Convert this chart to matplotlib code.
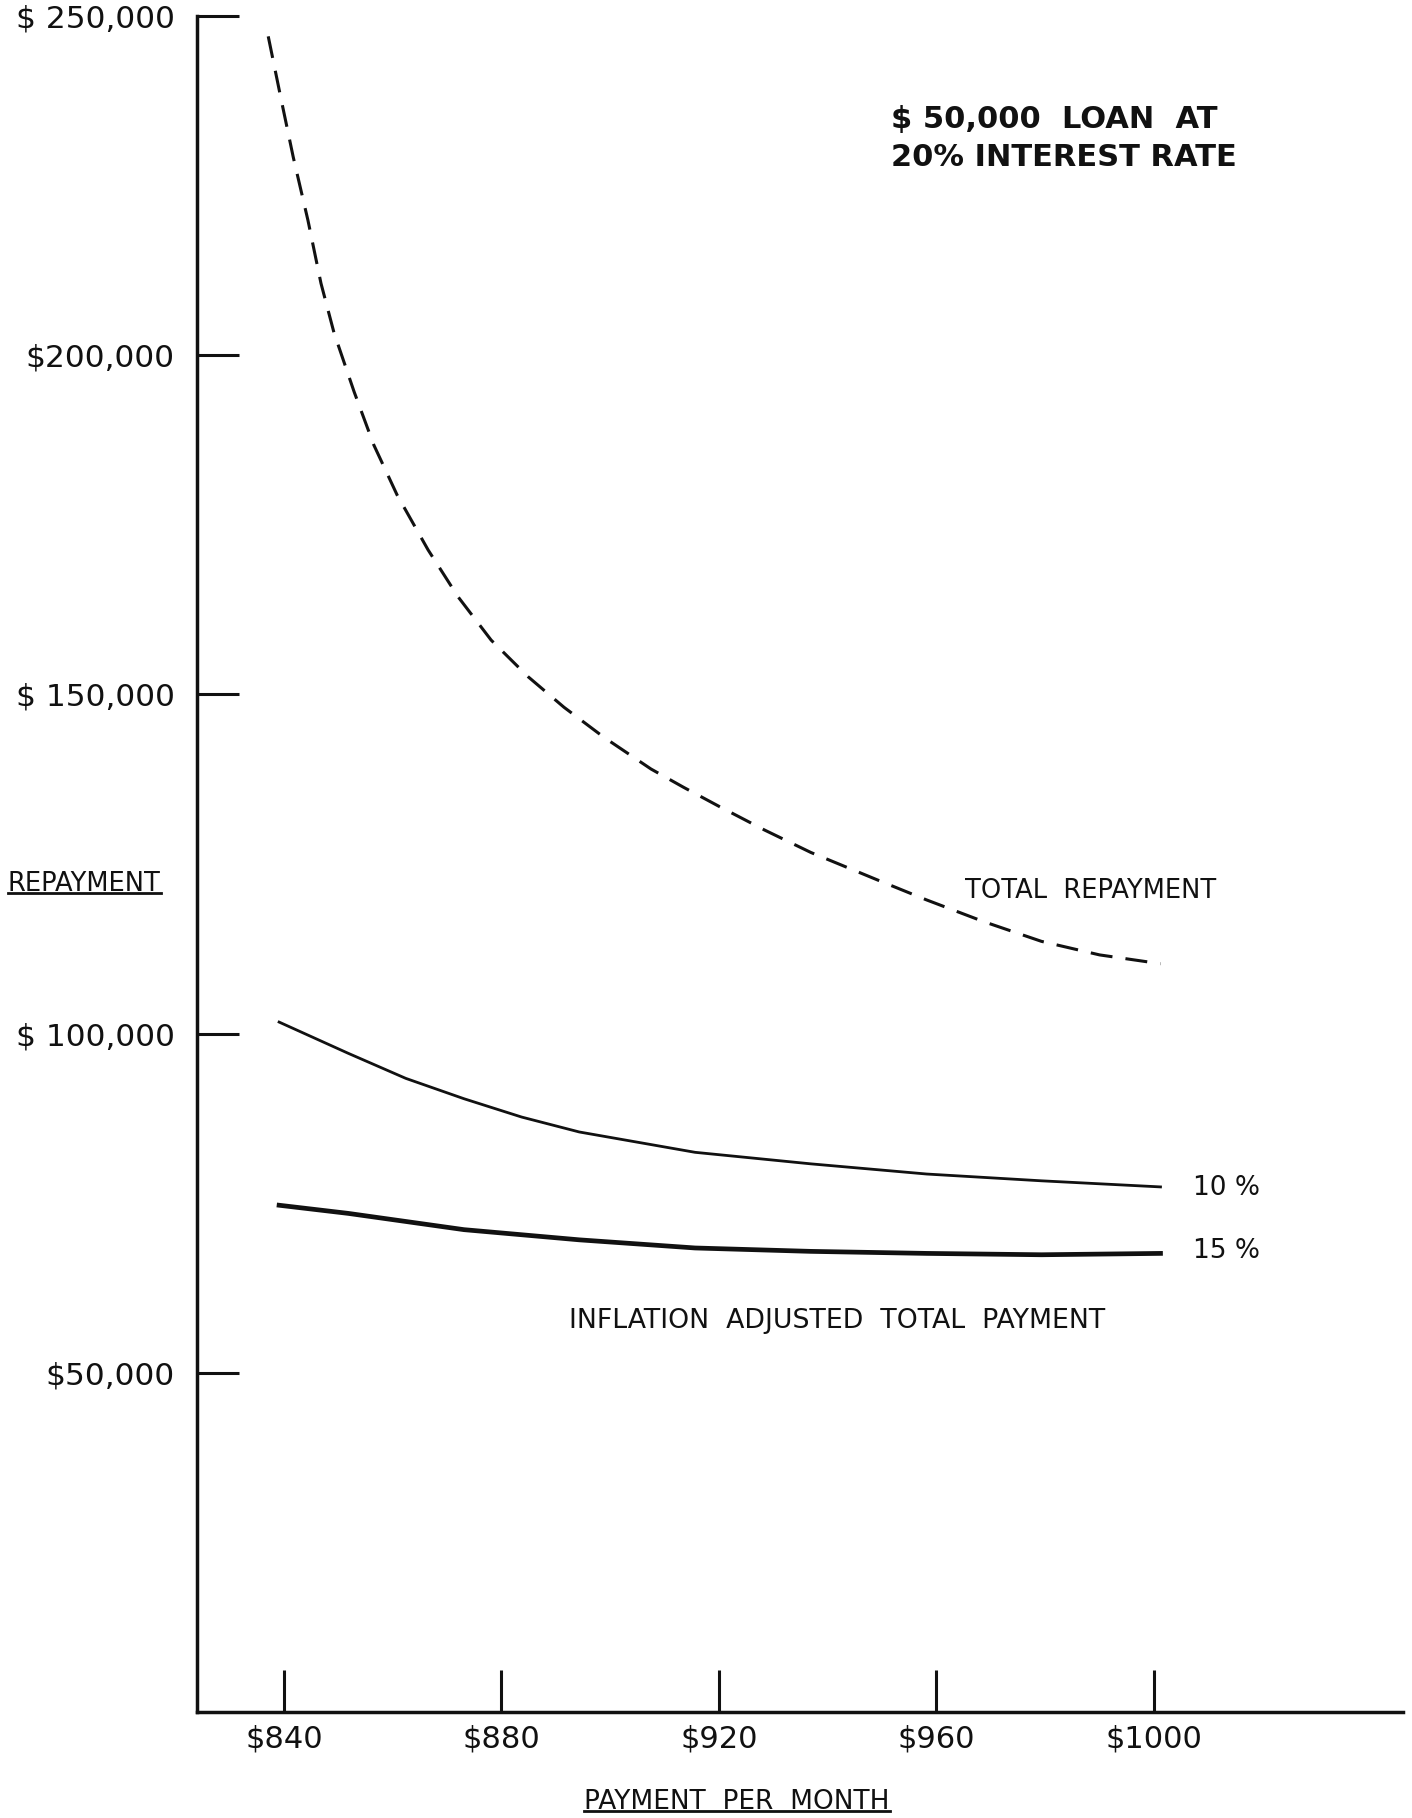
import matplotlib

matplotlib.use("Agg")

import matplotlib.pyplot as plt
from matplotlib.lines import Line2D
from matplotlib.transforms import IdentityTransform

# values
total_pay = [837.1, 839.4, 841.7, 844.4, 846.8, 849.2, 852.9, 856.5, 860.8, 866.5, 872.0, 878.1,
             884.9, 891.5, 898.8, 907.5, 913.5, 920.0, 928.4, 936.9, 949.6, 958.2, 968.7, 979.3, 990.0, 1001.2]
total_repay = [247000, 238000, 229200, 219900, 210600, 203300, 194600, 186800, 179400, 171300, 164400, 158000,
               152600, 148100, 143700, 139000, 136300, 133500, 130000, 126700, 122500, 119700, 116500, 113600, 111600, 110300]

infl10_pay = [839.1, 851.8, 862.4, 873.1, 883.7, 894.3, 915.6, 936.9, 958.2, 979.3, 1001.2]
infl10_repay = [101700, 97100, 93400, 90400, 87700, 85500, 82500, 80800, 79300, 78300, 77400]

infl15_pay = [839.1, 851.8, 873.1, 894.3, 915.6, 936.9, 958.2, 979.3, 1001.2]
infl15_repay = [74700, 73500, 71100, 69600, 68400, 67900, 67600, 67400, 67600]

x_ticks = [840, 880, 920, 960, 1000]
x_labels = ["$840", "$880", "$920", "$960", "$1000"]
y_ticks = [50000, 100000, 150000, 200000, 250000]
y_labels = ["$50,000", "$ 100,000", "$ 150,000", "$200,000", "$ 250,000"]

W, H = 1412, 1818
fig = plt.figure(figsize=(W / 100, H / 100), dpi=100, facecolor="white")
ax = fig.add_axes([197 / W, 1 - 1712 / H, (1403 - 197) / W, (1712 - 16) / H])

ink = "#111111"
ax.plot(total_pay, total_repay, color=ink, linewidth=2.2, linestyle=(0, (7.2, 4.3)), solid_capstyle="butt")
ax.plot(infl10_pay, infl10_repay, color=ink, linewidth=2.0)
ax.plot(infl15_pay, infl15_repay, color=ink, linewidth=3.4)

ax.set_xlim(824, 1045.8)
ax.set_ylim(0, 250000)
for side in ["top", "right"]:
    ax.spines[side].set_visible(False)
for side in ["left", "bottom"]:
    ax.spines[side].set_linewidth(2.5)
    ax.spines[side].set_color(ink)

ax.set_xticks(x_ticks, x_labels)
ax.set_yticks(y_ticks, y_labels)
ax.tick_params(axis="both", direction="in", length=30, width=2.2, color=ink, labelcolor=ink)
ax.tick_params(axis="y", pad=16, labelsize=22.5)
ax.tick_params(axis="x", pad=9, labelsize=22)

ax.text(951.6, 234700, "$ 50,000  LOAN  AT", fontsize=22, fontweight="bold", color=ink, va="center", ha="left")
ax.text(951.6, 229100, "20% INTEREST RATE", fontsize=22, fontweight="bold", color=ink, va="center", ha="left")
ax.text(965.2, 121000, "TOTAL  REPAYMENT", fontsize=18.5, color=ink, va="center", ha="left")
ax.text(1007.1, 77300, "10 %", fontsize=19, color=ink, va="center", ha="left")
ax.text(1007.1, 68000, "15 %", fontsize=19, color=ink, va="center", ha="left")
ax.text(941.8, 57700, "INFLATION  ADJUSTED  TOTAL  PAYMENT", fontsize=19.3, color=ink, va="center", ha="center")

# underlined axis titles, placed in figure pixels (origin bottom-left)
ylab = fig.text(8 / W, 1 - 891 / H, "REPAYMENT", fontsize=18.5, color=ink, ha="left", va="baseline")
xlab = fig.text(737 / W, 1 - 1809 / H, "PAYMENT  PER  MONTH", fontsize=19, color=ink, ha="center", va="baseline")

fig.canvas.draw()
renderer = fig.canvas.get_renderer()
for label, base in [(ylab, 891), (xlab, 1809)]:
    bb = label.get_window_extent(renderer)
    yline = H - base - 2
    fig.add_artist(Line2D([bb.x0, bb.x1], [yline, yline], transform=IdentityTransform(), color=ink, linewidth=2.0))

fig.savefig("out.png", dpi=100, facecolor="white")
